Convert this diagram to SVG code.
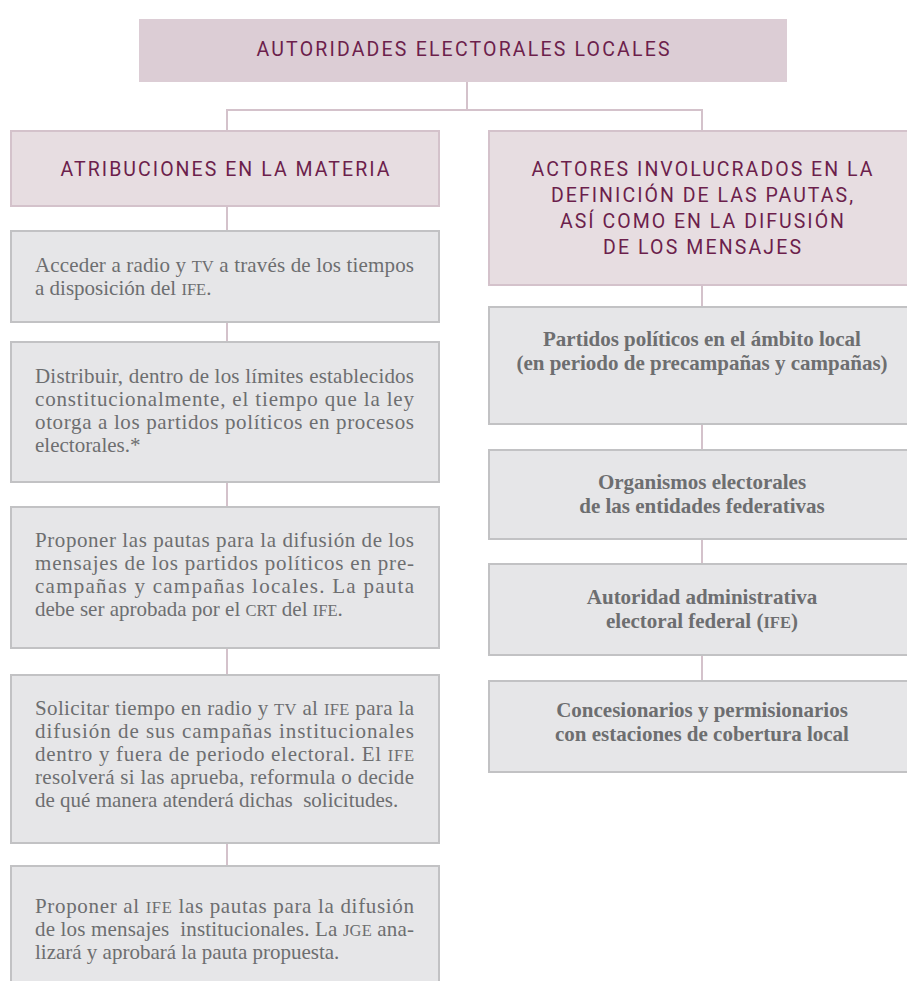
<svg xmlns="http://www.w3.org/2000/svg" width="907" height="981" viewBox="0 0 907 981">
<style>
.top{fill:#dccdd5}
.hdr{fill:#e7dde1;stroke:#d4c2cb;stroke-width:2}
.box{fill:#e6e6e8;stroke:#c2c2c4;stroke-width:2}
.con{stroke:#d4c2cb;stroke-width:2;fill:none}
.ht{font-family:Roboto,"Liberation Sans",sans-serif;font-size:19.5px;fill:#6c1f4c;text-anchor:middle}
.bt{font-family:"Liberation Serif","DejaVu Serif",serif;font-size:21px;fill:#6d6e70}
.rt{font-family:"Liberation Serif","DejaVu Serif",serif;font-size:21px;font-weight:bold;fill:#6d6e70;text-anchor:middle}
.sc{font-size:16.5px}
.pre{white-space:pre}
</style>
<rect width="907" height="981" fill="#ffffff"/>
<g id="connectors">
<path class="con" d="M467 82V110M227 110H702M227 109V130M702 109V130"/>
<path class="con" d="M227 206V231M227 322V342M227 482V507M227 648V675M227 843V866"/>
<path class="con" d="M702 285V307M702 424V450M702 539V564M702 655V681"/>
</g>
<g id="n-top">
<rect class="top" x="139" y="19" width="648" height="63"/>
<text class="ht" x="463" y="56" textLength="413" lengthAdjust="spacing">AUTORIDADES ELECTORALES LOCALES</text>
</g>
<g id="n-atrib">
<rect class="hdr" x="11" y="131" width="428" height="75"/>
<text class="ht" x="225" y="176" textLength="329" lengthAdjust="spacing">ATRIBUCIONES EN LA MATERIA</text>
</g>
<g id="n-actores">
<rect class="hdr" x="489" y="131" width="420" height="154"/>
<text class="ht" x="702" y="176" textLength="341" lengthAdjust="spacing">ACTORES INVOLUCRADOS EN LA</text>
<text class="ht" x="702" y="202" textLength="302" lengthAdjust="spacing">DEFINICIÓN DE LAS PAUTAS,</text>
<text class="ht" x="702" y="228" textLength="284" lengthAdjust="spacing">ASÍ COMO EN LA DIFUSIÓN</text>
<text class="ht" x="702" y="254" textLength="198" lengthAdjust="spacing">DE LOS MENSAJES</text>
</g>
<g id="n-l1">
<rect class="box" x="11" y="231" width="428" height="91"/>
<text class="bt" x="35" y="272" textLength="379" lengthAdjust="spacing">Acceder a radio y <tspan class="sc">TV</tspan> a través de los tiempos</text>
<text class="bt" x="35" y="295">a disposición del <tspan class="sc">IFE</tspan>.</text>
</g>
<g id="n-l2">
<rect class="box" x="11" y="342" width="428" height="140"/>
<text class="bt" x="35" y="383" textLength="379" lengthAdjust="spacing">Distribuir, dentro de los límites establecidos</text>
<text class="bt" x="35" y="406" textLength="379" lengthAdjust="spacing">constitucionalmente, el tiempo que la ley</text>
<text class="bt" x="35" y="429" textLength="379" lengthAdjust="spacing">otorga a los partidos políticos en procesos</text>
<text class="bt" x="35" y="452">electorales.*</text>
</g>
<g id="n-l3">
<rect class="box" x="11" y="507" width="428" height="141"/>
<text class="bt" x="35" y="547" textLength="379" lengthAdjust="spacing">Proponer las pautas para la difusión de los</text>
<text class="bt" x="35" y="570" textLength="379" lengthAdjust="spacing">mensajes de los partidos políticos en pre-</text>
<text class="bt" x="35" y="593" textLength="379" lengthAdjust="spacing">campañas y campañas locales. La pauta</text>
<text class="bt" x="35" y="616">debe ser aprobada por el <tspan class="sc">CRT</tspan> del <tspan class="sc">IFE</tspan>.</text>
</g>
<g id="n-l4">
<rect class="box" x="11" y="675" width="428" height="168"/>
<text class="bt" x="35" y="715" textLength="379" lengthAdjust="spacing">Solicitar tiempo en radio y <tspan class="sc">TV</tspan> al <tspan class="sc">IFE</tspan> para la</text>
<text class="bt" x="35" y="738" textLength="379" lengthAdjust="spacing">difusión de sus campañas institucionales</text>
<text class="bt" x="35" y="761" textLength="379" lengthAdjust="spacing">dentro y fuera de periodo electoral. El <tspan class="sc">IFE</tspan></text>
<text class="bt" x="35" y="784" textLength="379" lengthAdjust="spacing">resolverá si las aprueba, reformula o decide</text>
<text class="bt pre" x="35" y="807">de qué manera atenderá dichas  solicitudes.</text>
</g>
<g id="n-l5">
<rect class="box" x="11" y="866" width="428" height="140"/>
<text class="bt" x="35" y="913" textLength="379" lengthAdjust="spacing">Proponer al <tspan class="sc">IFE</tspan> las pautas para la difusión</text>
<text class="bt pre" x="35" y="936" textLength="379" lengthAdjust="spacing">de los mensajes  institucionales. La <tspan class="sc">JGE</tspan> ana-</text>
<text class="bt" x="35" y="959">lizará y aprobará la pauta propuesta.</text>
</g>
<g id="n-r1">
<rect class="box" x="489" y="307" width="420" height="117"/>
<text class="rt" x="702" y="346">Partidos políticos en el ámbito local</text>
<text class="rt" x="702" y="370">(en periodo de precampañas y campañas)</text>
</g>
<g id="n-r2">
<rect class="box" x="489" y="450" width="420" height="89"/>
<text class="rt" x="702" y="489">Organismos electorales</text>
<text class="rt" x="702" y="513">de las entidades federativas</text>
</g>
<g id="n-r3">
<rect class="box" x="489" y="564" width="420" height="91"/>
<text class="rt" x="702" y="604">Autoridad administrativa</text>
<text class="rt" x="702" y="628">electoral federal (<tspan class="sc">IFE</tspan>)</text>
</g>
<g id="n-r4">
<rect class="box" x="489" y="681" width="420" height="91"/>
<text class="rt" x="702" y="717">Concesionarios y permisionarios</text>
<text class="rt" x="702" y="741">con estaciones de cobertura local</text>
</g>
</svg>
